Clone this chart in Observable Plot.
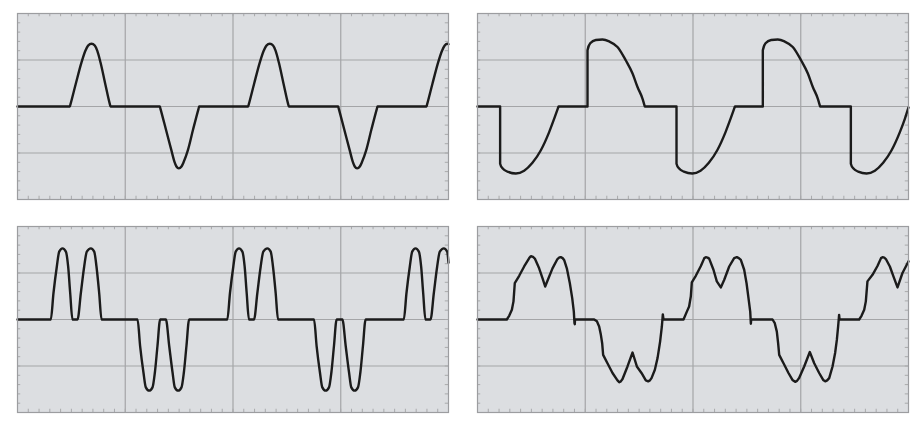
<!DOCTYPE html>
<html><head><meta charset="utf-8">
<script src="https://cdn.jsdelivr.net/npm/d3@7"></script>
<script src="https://cdn.jsdelivr.net/npm/@observablehq/plot@0.6"></script>
<style>
html,body{margin:0;padding:0;background:#fff}
body{width:920px;height:425px;position:relative;overflow:hidden;font-family:"DejaVu Sans",sans-serif}
.panel{position:absolute}
</style></head><body>
<div id="tl" class="panel" style="left:16px;top:12px"></div>
<div id="tr" class="panel" style="left:476px;top:12px"></div>
<div id="bl" class="panel" style="left:16px;top:225px"></div>
<div id="br" class="panel" style="left:476px;top:225px"></div>
<script>
// Time in screen divisions (0–4), amplitude in divisions (−2…2)
const waveTopLeft = [[0,0],[0.486,0],[0.492,0.05],[0.541,0.49],[0.594,0.95],[0.630,1.20],[0.655,1.31],[0.687,1.35],[0.717,1.31],[0.740,1.20],[0.770,0.95],[0.814,0.49],[0.857,0.05],[0.863,0],
[1.321,0],[1.327,-0.05],[1.377,-0.49],[1.429,-0.95],[1.457,-1.19],[1.475,-1.29],[1.497,-1.33],[1.522,-1.29],[1.543,-1.19],[1.580,-0.95],[1.630,-0.49],[1.680,-0.05],[1.686,0],
[2.141,0],[2.147,0.05],[2.196,0.49],[2.249,0.95],[2.285,1.20],[2.310,1.31],[2.342,1.35],[2.372,1.31],[2.395,1.20],[2.425,0.95],[2.469,0.49],[2.512,0.05],[2.518,0],
[2.976,0],[2.982,-0.05],[3.032,-0.49],[3.084,-0.95],[3.112,-1.19],[3.130,-1.29],[3.152,-1.33],[3.177,-1.29],[3.198,-1.19],[3.235,-0.95],[3.285,-0.49],[3.335,-0.05],[3.341,0],
[3.796,0],[3.802,0.05],[3.851,0.49],[3.904,0.95],[3.940,1.20],[3.965,1.31],[3.990,1.35],[4.0,1.34]];

const waveTopRight = [[0,0],[0.210,0],[0.210,-1.23],[0.232,-1.33],[0.278,-1.40],[0.356,-1.44],[0.433,-1.38],[0.510,-1.21],[0.588,-0.94],[0.665,-0.55],[0.712,-0.26],[0.746,-0.04],[0.752,0],
[1.021,0],[1.021,1.21],[1.046,1.36],[1.098,1.43],[1.160,1.44],[1.222,1.40],[1.299,1.28],[1.377,0.99],[1.439,0.71],[1.485,0.42],[1.531,0.17],[1.547,0.045],[1.553,0],
[1.847,0],[1.847,-1.23],[1.869,-1.33],[1.915,-1.40],[1.993,-1.44],[2.070,-1.38],[2.147,-1.21],[2.225,-0.94],[2.302,-0.55],[2.349,-0.26],[2.383,-0.04],[2.389,0],
[2.648,0],[2.648,1.21],[2.673,1.36],[2.725,1.43],[2.787,1.44],[2.849,1.40],[2.926,1.28],[3.004,0.99],[3.066,0.71],[3.112,0.42],[3.158,0.17],[3.174,0.045],[3.180,0],
[3.465,0],[3.465,-1.23],[3.487,-1.33],[3.533,-1.40],[3.611,-1.44],[3.688,-1.38],[3.765,-1.21],[3.843,-0.94],[3.920,-0.55],[3.967,-0.26],[4.0,-0.02]];

const waveBottomLeft = [[0,0],[0.309,0],[0.334,0.57],[0.365,1.14],[0.387,1.46],[0.418,1.53],[0.449,1.46],[0.470,1.14],[0.489,0.57],[0.510,0],
[0.557,0],[0.588,0.57],[0.619,1.14],[0.643,1.46],[0.681,1.53],[0.712,1.46],[0.733,1.14],[0.758,0.57],[0.780,0],
[1.114,0],[1.138,-0.57],[1.169,-1.14],[1.191,-1.46],[1.222,-1.53],[1.253,-1.46],[1.275,-1.14],[1.299,-0.57],[1.324,0],
[1.377,0],[1.408,-0.57],[1.439,-1.14],[1.460,-1.46],[1.491,-1.53],[1.522,-1.46],[1.544,-1.14],[1.568,-0.57],[1.593,0],
[1.947,0],[1.972,0.57],[2.003,1.14],[2.025,1.46],[2.056,1.53],[2.087,1.46],[2.108,1.14],[2.127,0.57],[2.148,0],
[2.195,0],[2.226,0.57],[2.257,1.14],[2.281,1.46],[2.319,1.53],[2.350,1.46],[2.371,1.14],[2.396,0.57],[2.418,0],
[2.752,0],[2.776,-0.57],[2.807,-1.14],[2.829,-1.46],[2.860,-1.53],[2.891,-1.46],[2.913,-1.14],[2.937,-0.57],[2.962,0],
[3.015,0],[3.046,-0.57],[3.077,-1.14],[3.098,-1.46],[3.129,-1.53],[3.160,-1.46],[3.182,-1.14],[3.206,-0.57],[3.231,0],
[3.585,0],[3.610,0.57],[3.641,1.14],[3.663,1.46],[3.694,1.53],[3.725,1.46],[3.746,1.14],[3.765,0.57],[3.786,0],
[3.833,0],[3.864,0.57],[3.895,1.14],[3.919,1.46],[3.957,1.53],[3.988,1.46],[4.0,1.22]];

const waveBottomRight = [[0,0],[0.272,0],[0.294,0.08],[0.319,0.21],[0.334,0.39],[0.346,0.78],[0.387,0.94],[0.433,1.14],[0.480,1.32],[0.492,1.355],[0.501,1.36],[0.515,1.345],[0.532,1.31],[0.572,1.10],[0.603,0.89],[0.628,0.71],[0.656,0.87],[0.696,1.10],[0.742,1.30],[0.760,1.335],[0.773,1.34],[0.790,1.32],[0.804,1.28],[0.829,1.10],[0.857,0.78],[0.879,0.46],[0.894,0.17],[0.900,-0.08],[0.903,-0.10],[0.905,0],
[1.083,0],[1.108,-0.04],[1.129,-0.15],[1.145,-0.33],[1.157,-0.51],[1.166,-0.76],[1.206,-0.94],[1.253,-1.15],[1.299,-1.31],[1.315,-1.35],[1.330,-1.33],[1.346,-1.28],[1.392,-1.01],[1.439,-0.71],[1.479,-1.01],[1.522,-1.15],[1.562,-1.31],[1.584,-1.33],[1.600,-1.31],[1.615,-1.26],[1.646,-1.08],[1.671,-0.83],[1.695,-0.47],[1.711,-0.15],[1.720,0.11],[1.726,0],
[1.912,0],[1.943,0.17],[1.964,0.28],[1.980,0.50],[1.989,0.80],[2.026,0.94],[2.073,1.15],[2.105,1.32],[2.119,1.34],[2.135,1.33],[2.150,1.31],[2.190,1.07],[2.221,0.82],[2.258,0.69],[2.289,0.85],[2.336,1.14],[2.382,1.32],[2.407,1.34],[2.425,1.32],[2.444,1.28],[2.475,1.07],[2.497,0.78],[2.515,0.46],[2.531,0.17],[2.537,-0.09],[2.540,0],
[2.738,0],[2.759,-0.08],[2.778,-0.26],[2.790,-0.51],[2.800,-0.76],[2.840,-0.94],[2.886,-1.15],[2.923,-1.30],[2.948,-1.34],[2.965,-1.32],[2.985,-1.26],[3.032,-1.01],[3.084,-0.70],[3.125,-0.94],[3.171,-1.15],[3.208,-1.30],[3.227,-1.33],[3.245,-1.31],[3.264,-1.26],[3.295,-1.01],[3.319,-0.72],[3.335,-0.44],[3.347,-0.15],[3.356,0.10],[3.360,0],
[3.542,0],[3.564,0.08],[3.589,0.21],[3.604,0.39],[3.619,0.82],[3.666,0.96],[3.712,1.15],[3.745,1.32],[3.759,1.34],[3.775,1.33],[3.790,1.30],[3.827,1.14],[3.861,0.92],[3.898,0.69],[3.944,1.00],[3.991,1.21],[4.0,1.25]];

const majorX = [1, 2, 3];
const majorY = [-1, 0, 1];
const minorX = d3.range(1, 40).map(i => i / 10);
const minorY = d3.range(-9, 10).map(i => i / 5);

function scope(wave, curve) {
  return Plot.plot({
    width: 433, height: 188,
    marginTop: 1, marginRight: 1, marginBottom: 1, marginLeft: 1,
    style: {background: "transparent", overflow: "visible"},
    x: {domain: [0, 4], axis: null},
    y: {domain: [-2, 2], axis: null},
    marks: [
      Plot.frame({fill: "#dcdee1", stroke: "none"}),
      Plot.ruleX(majorX, {x: d => d, stroke: "#a4a5a7", strokeWidth: 1.2}),
      Plot.ruleY(majorY, {y: d => d, stroke: "#a4a5a7", strokeWidth: 1.2}),
      Plot.ruleX(minorX, {x: d => d, y1: 2, y2: 1.93, stroke: "#a9aaac"}),
      Plot.ruleX(minorX, {x: d => d, y1: -2, y2: -1.93, stroke: "#a9aaac"}),
      Plot.ruleY(minorY, {y: d => d, x1: 0, x2: 0.03, stroke: "#a9aaac"}),
      Plot.ruleY(minorY, {y: d => d, x1: 4, x2: 3.97, stroke: "#a9aaac"}),
      Plot.line(wave, {x: d => d[0], y: d => d[1], curve, stroke: "#1b1b1b", strokeWidth: 2.4, strokeLinejoin: "round", strokeLinecap: "round"}),
      Plot.frame({stroke: "#9c9da0", strokeWidth: 1.2})
    ]
  });
}

document.getElementById("tl").append(scope(waveTopLeft, "monotone-x"));
document.getElementById("tr").append(scope(waveTopRight, "monotone-x"));
document.getElementById("bl").append(scope(waveBottomLeft, "monotone-x"));
document.getElementById("br").append(scope(waveBottomRight, "linear"));
</script>
</body></html>
